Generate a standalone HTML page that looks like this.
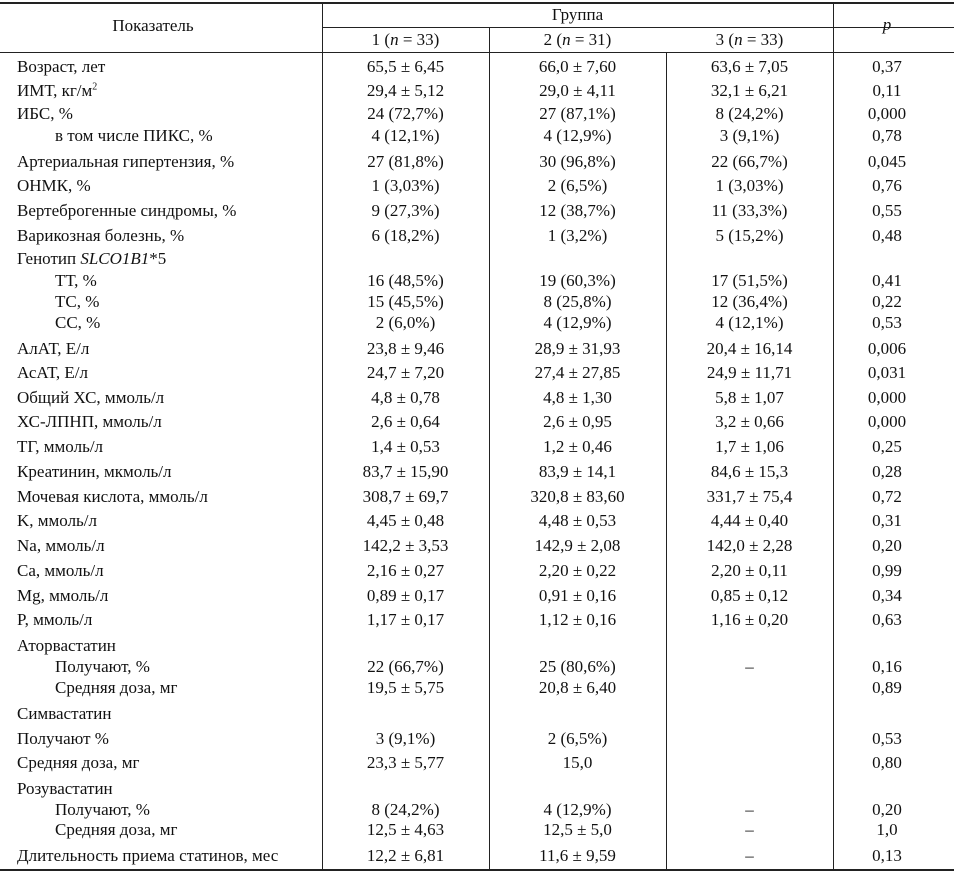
<!DOCTYPE html>
<html><head><meta charset="utf-8"><style>
body{margin:0;background:#fff;}
#t{position:relative;width:954px;height:873px;font-family:"Liberation Serif",serif;font-size:17px;color:#111;overflow:hidden}
.h{position:absolute;height:1px;background:#222}
.v{position:absolute;width:1px;background:#222}
.l{position:absolute;left:17px;line-height:18px;white-space:nowrap}
.i{left:55px}
.c{position:absolute;line-height:18px;text-align:center;white-space:nowrap}
.a{left:322px;width:167px}.b{left:489px;width:177px}.d{left:666px;width:167px}.p{left:833px;width:108px}
</style></head><body><div id="t">
<div class="h" style="left:0;top:2px;width:954px;height:2px"></div>
<div class="h" style="left:322px;top:27px;width:632px"></div>
<div class="h" style="left:0;top:52px;width:954px"></div>
<div class="h" style="left:0;top:869px;width:954px;height:2px"></div>
<div class="v" style="left:322px;top:2px;height:868px"></div>
<div class="v" style="left:489px;top:27px;height:843px"></div>
<div class="v" style="left:666px;top:52px;height:818px"></div>
<div class="v" style="left:833px;top:2px;height:868px"></div>
<div class="c" style="left:0;width:306px;top:17px">Показатель</div>
<div class="c" style="left:322px;width:511px;top:6px">Группа</div>
<div class="c p" style="top:16px"><i>p</i></div>
<div class="c a" style="top:31px">1 (<i>n</i> = 33)</div>
<div class="c b" style="top:31px">2 (<i>n</i> = 31)</div>
<div class="c d" style="top:31px">3 (<i>n</i> = 33)</div>

<div class="l" style="top:58px">Возраст, лет</div><div class="c a" style="top:58px">65,5 ± 6,45</div><div class="c b" style="top:58px">66,0 ± 7,60</div><div class="c d" style="top:58px">63,6 ± 7,05</div><div class="c p" style="top:58px">0,37</div>
<div class="l" style="top:82px">ИМТ, кг/м<sup style="font-size:10px;line-height:0">2</sup></div><div class="c a" style="top:82px">29,4 ± 5,12</div><div class="c b" style="top:82px">29,0 ± 4,11</div><div class="c d" style="top:82px">32,1 ± 6,21</div><div class="c p" style="top:82px">0,11</div>
<div class="l" style="top:105px">ИБС, %</div><div class="c a" style="top:105px">24 (72,7%)</div><div class="c b" style="top:105px">27 (87,1%)</div><div class="c d" style="top:105px">8 (24,2%)</div><div class="c p" style="top:105px">0,000</div>
<div class="l i" style="top:127px">в том числе ПИКС, %</div><div class="c a" style="top:127px">4 (12,1%)</div><div class="c b" style="top:127px">4 (12,9%)</div><div class="c d" style="top:127px">3 (9,1%)</div><div class="c p" style="top:127px">0,78</div>
<div class="l" style="top:153px">Артериальная гипертензия, %</div><div class="c a" style="top:153px">27 (81,8%)</div><div class="c b" style="top:153px">30 (96,8%)</div><div class="c d" style="top:153px">22 (66,7%)</div><div class="c p" style="top:153px">0,045</div>
<div class="l" style="top:177px">ОНМК, %</div><div class="c a" style="top:177px">1 (3,03%)</div><div class="c b" style="top:177px">2 (6,5%)</div><div class="c d" style="top:177px">1 (3,03%)</div><div class="c p" style="top:177px">0,76</div>
<div class="l" style="top:202px">Вертеброгенные синдромы, %</div><div class="c a" style="top:202px">9 (27,3%)</div><div class="c b" style="top:202px">12 (38,7%)</div><div class="c d" style="top:202px">11 (33,3%)</div><div class="c p" style="top:202px">0,55</div>
<div class="l" style="top:227px">Варикозная болезнь, %</div><div class="c a" style="top:227px">6 (18,2%)</div><div class="c b" style="top:227px">1 (3,2%)</div><div class="c d" style="top:227px">5 (15,2%)</div><div class="c p" style="top:227px">0,48</div>
<div class="l" style="top:250px">Генотип <i>SLCO1B1</i>*5</div>
<div class="l i" style="top:272px">ТТ, %</div><div class="c a" style="top:272px">16 (48,5%)</div><div class="c b" style="top:272px">19 (60,3%)</div><div class="c d" style="top:272px">17 (51,5%)</div><div class="c p" style="top:272px">0,41</div>
<div class="l i" style="top:293px">ТС, %</div><div class="c a" style="top:293px">15 (45,5%)</div><div class="c b" style="top:293px">8 (25,8%)</div><div class="c d" style="top:293px">12 (36,4%)</div><div class="c p" style="top:293px">0,22</div>
<div class="l i" style="top:314px">СС, %</div><div class="c a" style="top:314px">2 (6,0%)</div><div class="c b" style="top:314px">4 (12,9%)</div><div class="c d" style="top:314px">4 (12,1%)</div><div class="c p" style="top:314px">0,53</div>
<div class="l" style="top:340px">АлАТ, Е/л</div><div class="c a" style="top:340px">23,8 ± 9,46</div><div class="c b" style="top:340px">28,9 ± 31,93</div><div class="c d" style="top:340px">20,4 ± 16,14</div><div class="c p" style="top:340px">0,006</div>
<div class="l" style="top:364px">АсАТ, Е/л</div><div class="c a" style="top:364px">24,7 ± 7,20</div><div class="c b" style="top:364px">27,4 ± 27,85</div><div class="c d" style="top:364px">24,9 ± 11,71</div><div class="c p" style="top:364px">0,031</div>
<div class="l" style="top:389px">Общий ХС, ммоль/л</div><div class="c a" style="top:389px">4,8 ± 0,78</div><div class="c b" style="top:389px">4,8 ± 1,30</div><div class="c d" style="top:389px">5,8 ± 1,07</div><div class="c p" style="top:389px">0,000</div>
<div class="l" style="top:413px">ХС-ЛПНП, ммоль/л</div><div class="c a" style="top:413px">2,6 ± 0,64</div><div class="c b" style="top:413px">2,6 ± 0,95</div><div class="c d" style="top:413px">3,2 ± 0,66</div><div class="c p" style="top:413px">0,000</div>
<div class="l" style="top:438px">ТГ, ммоль/л</div><div class="c a" style="top:438px">1,4 ± 0,53</div><div class="c b" style="top:438px">1,2 ± 0,46</div><div class="c d" style="top:438px">1,7 ± 1,06</div><div class="c p" style="top:438px">0,25</div>
<div class="l" style="top:463px">Креатинин, мкмоль/л</div><div class="c a" style="top:463px">83,7 ± 15,90</div><div class="c b" style="top:463px">83,9 ± 14,1</div><div class="c d" style="top:463px">84,6 ± 15,3</div><div class="c p" style="top:463px">0,28</div>
<div class="l" style="top:488px">Мочевая кислота, ммоль/л</div><div class="c a" style="top:488px">308,7 ± 69,7</div><div class="c b" style="top:488px">320,8 ± 83,60</div><div class="c d" style="top:488px">331,7 ± 75,4</div><div class="c p" style="top:488px">0,72</div>
<div class="l" style="top:512px">K, ммоль/л</div><div class="c a" style="top:512px">4,45 ± 0,48</div><div class="c b" style="top:512px">4,48 ± 0,53</div><div class="c d" style="top:512px">4,44 ± 0,40</div><div class="c p" style="top:512px">0,31</div>
<div class="l" style="top:537px">Na, ммоль/л</div><div class="c a" style="top:537px">142,2 ± 3,53</div><div class="c b" style="top:537px">142,9 ± 2,08</div><div class="c d" style="top:537px">142,0 ± 2,28</div><div class="c p" style="top:537px">0,20</div>
<div class="l" style="top:562px">Ca, ммоль/л</div><div class="c a" style="top:562px">2,16 ± 0,27</div><div class="c b" style="top:562px">2,20 ± 0,22</div><div class="c d" style="top:562px">2,20 ± 0,11</div><div class="c p" style="top:562px">0,99</div>
<div class="l" style="top:587px">Mg, ммоль/л</div><div class="c a" style="top:587px">0,89 ± 0,17</div><div class="c b" style="top:587px">0,91 ± 0,16</div><div class="c d" style="top:587px">0,85 ± 0,12</div><div class="c p" style="top:587px">0,34</div>
<div class="l" style="top:611px">P, ммоль/л</div><div class="c a" style="top:611px">1,17 ± 0,17</div><div class="c b" style="top:611px">1,12 ± 0,16</div><div class="c d" style="top:611px">1,16 ± 0,20</div><div class="c p" style="top:611px">0,63</div>
<div class="l" style="top:637px">Аторвастатин</div>
<div class="l i" style="top:658px">Получают, %</div><div class="c a" style="top:658px">22 (66,7%)</div><div class="c b" style="top:658px">25 (80,6%)</div><div class="c d" style="top:658px">–</div><div class="c p" style="top:658px">0,16</div>
<div class="l i" style="top:679px">Средняя доза, мг</div><div class="c a" style="top:679px">19,5 ± 5,75</div><div class="c b" style="top:679px">20,8 ± 6,40</div><div class="c p" style="top:679px">0,89</div>
<div class="l" style="top:705px">Симвастатин</div>
<div class="l" style="top:730px">Получают %</div><div class="c a" style="top:730px">3 (9,1%)</div><div class="c b" style="top:730px">2 (6,5%)</div><div class="c p" style="top:730px">0,53</div>
<div class="l" style="top:754px">Средняя доза, мг</div><div class="c a" style="top:754px">23,3 ± 5,77</div><div class="c b" style="top:754px">15,0</div><div class="c p" style="top:754px">0,80</div>
<div class="l" style="top:780px">Розувастатин</div>
<div class="l i" style="top:801px">Получают, %</div><div class="c a" style="top:801px">8 (24,2%)</div><div class="c b" style="top:801px">4 (12,9%)</div><div class="c d" style="top:801px">–</div><div class="c p" style="top:801px">0,20</div>
<div class="l i" style="top:821px">Средняя доза, мг</div><div class="c a" style="top:821px">12,5 ± 4,63</div><div class="c b" style="top:821px">12,5 ± 5,0</div><div class="c d" style="top:821px">–</div><div class="c p" style="top:821px">1,0</div>
<div class="l" style="top:847px">Длительность приема статинов, мес</div><div class="c a" style="top:847px">12,2 ± 6,81</div><div class="c b" style="top:847px">11,6 ± 9,59</div><div class="c d" style="top:847px">–</div><div class="c p" style="top:847px">0,13</div>
</div></body></html>
